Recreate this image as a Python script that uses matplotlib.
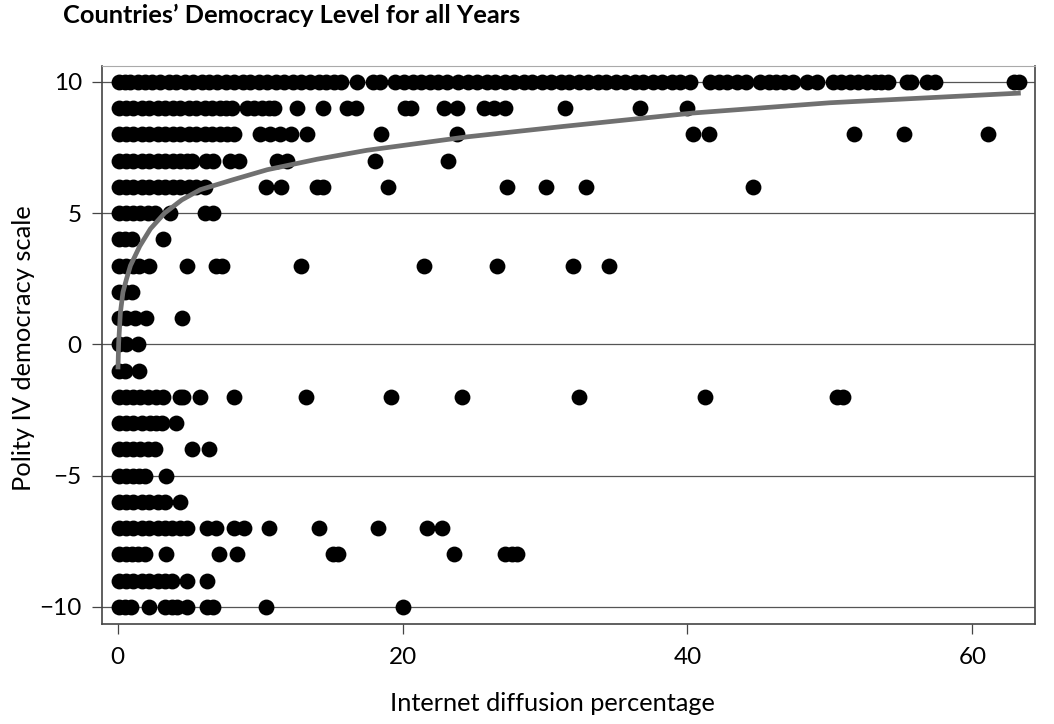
import matplotlib
matplotlib.use("Agg")
import matplotlib.pyplot as plt

plt.rcParams['font.family'] = ['Lato', 'DejaVu Sans']

# internet diffusion (%) of each observation, grouped by Polity IV score
x_p10 = [0.1, 0.5, 0.9, 1.4, 1.9, 2.4, 3.0, 3.6, 4.1, 4.7, 5.3, 5.9, 6.4, 7.0, 7.6,
         8.2, 8.8, 9.3, 9.9, 10.5, 11.1, 11.7, 12.3, 12.9, 13.5, 14.1, 14.6, 15.2, 15.7,
         16.8, 17.9, 18.4,
         19.5, 20.1, 20.7, 21.3, 21.9, 22.5, 23.1, 23.9, 24.6, 25.2, 25.9, 26.5, 27.2,
         27.8, 28.5, 29.1, 29.8, 30.4, 31.1, 31.7, 32.4, 33.0, 33.7, 34.3, 35.0, 35.6,
         36.3, 36.9, 37.6, 38.2, 38.9, 39.5, 40.2,
         41.6, 42.2, 42.8, 43.5, 44.1, 45.1, 45.7, 46.2, 46.8, 47.4, 48.4, 49.1,
         50.2, 50.8, 51.4, 52.0, 52.6, 53.2, 53.6, 54.1, 55.4, 55.7, 56.8, 57.4, 62.9, 63.3]
x_p9 = [0.1, 0.6, 1.1, 1.7, 2.2, 2.8, 3.3, 3.9, 4.4, 5.0, 5.5, 6.1, 6.6, 7.2, 7.6, 8.0,
        9.1, 9.6, 10.1, 10.6, 11.0, 12.6, 14.4, 16.1, 16.7, 20.2, 20.6, 22.9, 23.8,
        25.7, 26.4, 27.2, 31.4, 36.7, 40.0]
x_p8 = [0.1, 0.6, 1.1, 1.7, 2.2, 2.8, 3.3, 3.9, 4.4, 5.0, 5.5, 6.1, 6.6, 7.2, 7.7, 8.2,
        10.0, 10.7, 11.4, 12.2, 13.3, 18.5, 23.8, 40.4, 41.5, 51.7, 55.2, 61.1]
x_p7 = [0.1, 0.6, 1.1, 1.7, 2.2, 2.8, 3.3, 3.9, 4.4, 4.9, 5.2, 6.2, 6.7, 7.9, 8.5,
        11.2, 11.9, 18.1, 23.2]
x_p6 = [0.1, 0.6, 1.1, 1.7, 2.2, 2.8, 3.3, 3.9, 4.4, 5.0, 5.5, 6.1,
        10.4, 11.5, 14.0, 14.4, 19.0, 27.3, 30.1, 32.9, 44.6]
x_p5 = [0.1, 0.6, 1.1, 1.6, 2.1, 2.6, 3.7, 6.1, 6.7]
x_p4 = [0.1, 0.5, 1.0, 3.2]
x_p3 = [0.1, 0.6, 1.1, 1.5, 2.2, 4.9, 6.9, 7.3, 12.9, 21.5, 26.6, 32.0, 34.5]
x_p2 = [0.1, 0.5, 1.0]
x_p1 = [0.1, 0.6, 1.2, 2.0, 4.5]
x_0 = [0.1, 0.6, 1.4]
x_m1 = [0.1, 0.5, 1.5]
x_m2 = [0.1, 0.6, 1.1, 1.6, 2.1, 2.7, 3.2, 4.4, 4.6, 5.8, 8.2, 13.2, 19.2, 24.2,
        32.4, 41.2, 50.5, 50.9]
x_m3 = [0.1, 0.6, 1.1, 1.7, 2.3, 2.7, 3.1, 4.1]
x_m4 = [0.1, 0.6, 1.1, 1.6, 2.1, 2.6, 5.2, 6.4]
x_m5 = [0.1, 0.6, 1.1, 1.5, 1.9, 3.4]
x_m6 = [0.1, 0.6, 1.1, 1.7, 2.2, 2.8, 3.3, 4.4]
x_m7 = [0.1, 0.6, 1.1, 1.7, 2.2, 2.8, 3.3, 3.8, 4.4, 4.9, 6.3, 6.9, 8.2, 8.9,
        10.6, 14.1, 18.3, 21.7, 22.8]
x_m8 = [0.1, 0.6, 1.0, 1.4, 1.9, 3.4, 7.1, 8.4, 15.1, 15.5, 23.6, 27.2, 27.7, 28.0]
x_m9 = [0.1, 0.6, 1.1, 1.7, 2.2, 2.8, 3.3, 3.8, 4.9, 6.3]
x_m10 = [0.1, 0.5, 0.95, 2.2, 3.3, 3.8, 4.2, 4.9, 6.3, 6.7, 10.4, 20.0]

levels = [10, 9, 8, 7, 6, 5, 4, 3, 2, 1, 0, -1, -2, -3, -4, -5, -6, -7, -8, -9, -10]
rows = [x_p10, x_p9, x_p8, x_p7, x_p6, x_p5, x_p4, x_p3, x_p2, x_p1, x_0,
        x_m1, x_m2, x_m3, x_m4, x_m5, x_m6, x_m7, x_m8, x_m9, x_m10]

# fitted curve
fit_x = [0.02, 0.07, 0.19, 0.37, 0.61, 0.9, 1.55, 2.3, 3.3, 4.5, 5.8, 8.1, 10.5,
         14.0, 17.5, 24.5, 31.3, 40.4, 50.0, 63.4]
fit_y = [-0.95, 0.06, 1.2, 1.98, 2.47, 3.0, 3.74, 4.4, 5.0, 5.5, 5.89, 6.27, 6.65,
         7.05, 7.39, 7.9, 8.3, 8.81, 9.2, 9.57]

xs = [v for row in rows for v in row]
ys = [lev for lev, row in zip(levels, rows) for v in row]

fig = plt.figure(figsize=(10.54, 7.24), dpi=100)
ax = fig.add_axes([102 / 1054, 1 - 624 / 724, 933 / 1054, 558 / 724])

ax.scatter(xs, ys, s=130, color='black', linewidths=0, zorder=3)
ax.plot(fit_x, fit_y, color='#707070', lw=3.4, solid_capstyle='butt', zorder=4)

ax.set_xlim(-1.1, 64.4)
ax.set_ylim(-10.65, 10.6)
ax.set_xticks([0, 20, 40, 60])
ax.set_yticks([-10, -5, 0, 5, 10])
ax.set_yticklabels(['\u221210', '\u22125', '0', '5', '10'])
ax.yaxis.grid(True, color='#555555', lw=0.9)
ax.set_axisbelow(True)

ax.tick_params(axis='both', direction='out', length=7.5, width=0.9, color='#444444',
               labelsize=17.5)
ax.tick_params(axis='x', pad=9)
ax.tick_params(axis='y', pad=7)
for side in ['left', 'bottom', 'right']:
    ax.spines[side].set_color('#444444')
    ax.spines[side].set_linewidth(1.2)
ax.spines['top'].set_color('#aaaaaa')

ax.set_xlabel('Internet diffusion percentage', fontsize=18.3)
ax.set_ylabel('Polity IV democracy scale', fontsize=18.3)
ax.xaxis.set_label_coords((552 - 102) / 933, -(692 - 624) / 558)
ax.yaxis.set_label_coords((35 - 102) / 933, (624 - 348) / 558)

fig.text(63 / 1054, 1 - 15.5 / 724, 'Countries\u2019 Democracy Level for all Years',
         fontsize=18.3, fontweight='bold', ha='left', va='center')

fig.savefig('out.png', dpi=100)
